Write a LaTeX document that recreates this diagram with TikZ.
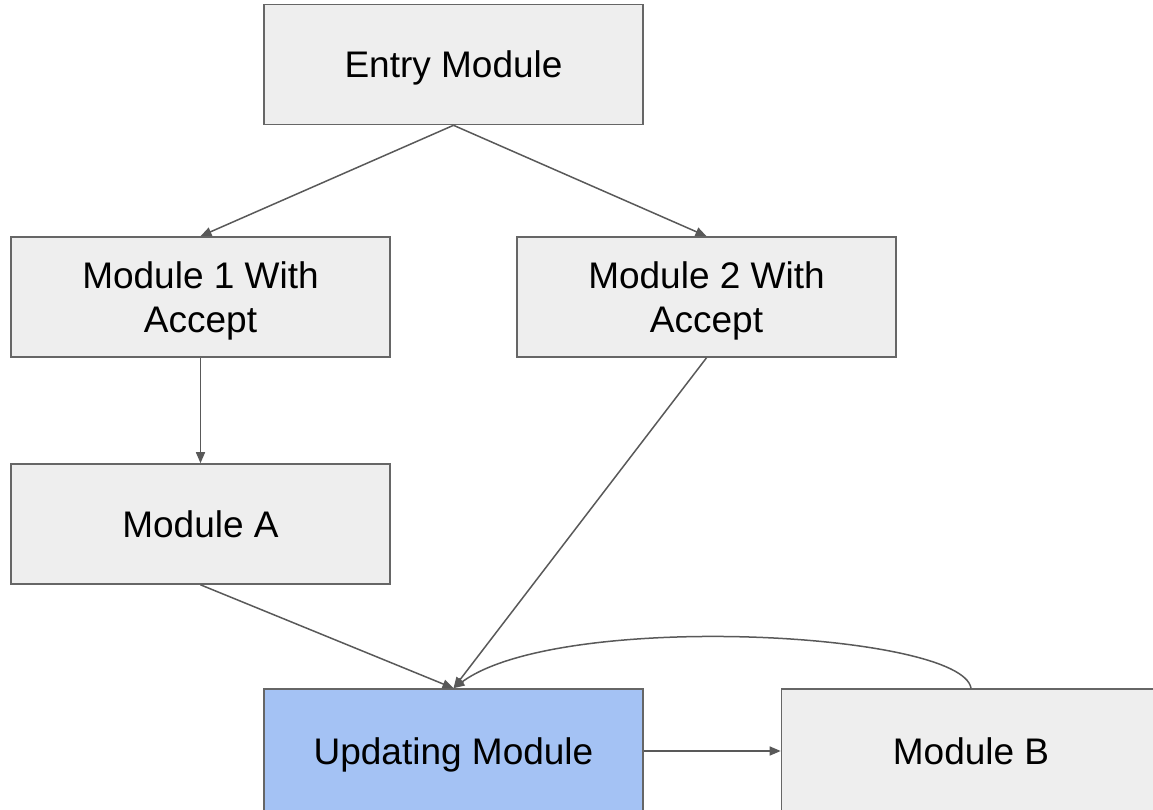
\documentclass[tikz,border=0pt]{standalone}
\usepackage{fontspec}
\setmainfont{Liberation Sans}
\usetikzlibrary{arrows.meta}
\definecolor{boxfill}{HTML}{EEEEEE}
\definecolor{boxline}{HTML}{666666}
\definecolor{wire}{HTML}{595959}
\definecolor{hilite}{HTML}{A4C2F4}
\begin{document}
\begin{tikzpicture}[x=1pt,y=-1pt,
  modbox/.style={draw=boxline, fill=boxfill, line width=1.6pt,
    minimum width=379pt, minimum height=120pt, inner sep=0pt,
    text depth=0pt, align=center, font=\fontsize{37}{44}\selectfont},
  link/.style={draw=wire, line width=1.5pt,
    -{Triangle[length=11pt,width=9pt]}}]
\useasboundingbox (0,0) rectangle (1153,809);
\clip (0,0) rectangle (1153,809);
% module boxes
\node[modbox] (E)  at (453.5,64.5)  {Entry Module};
\node[modbox] (M1) at (200.5,297)   {Module 1 With\\Accept};
\node[modbox] (M2) at (706.5,297)   {Module 2 With\\Accept};
\node[modbox] (A)  at (200.5,524)   {Module A};
% bottom row runs past the lower and right edges
\node[modbox, fill=hilite, minimum height=124pt] (U) at (453.5,751) {Updating Module};
\node[modbox, minimum height=124pt] (B)  at (971,751) {Module B};
% connectors
\draw[link] (E.south) -- (M1.north);
\draw[link] (E.south) -- (M2.north);
\draw[link] (M1.south) -- (A.north);
\draw[link] (A.south) -- (U.north);
\draw[link] (M2.south) -- (U.north);
\draw[link] (U.east) -- (B.west);
\draw[link] (B.north) .. controls (962,632) and (560,610) .. (U.north);
\end{tikzpicture}
\end{document}
